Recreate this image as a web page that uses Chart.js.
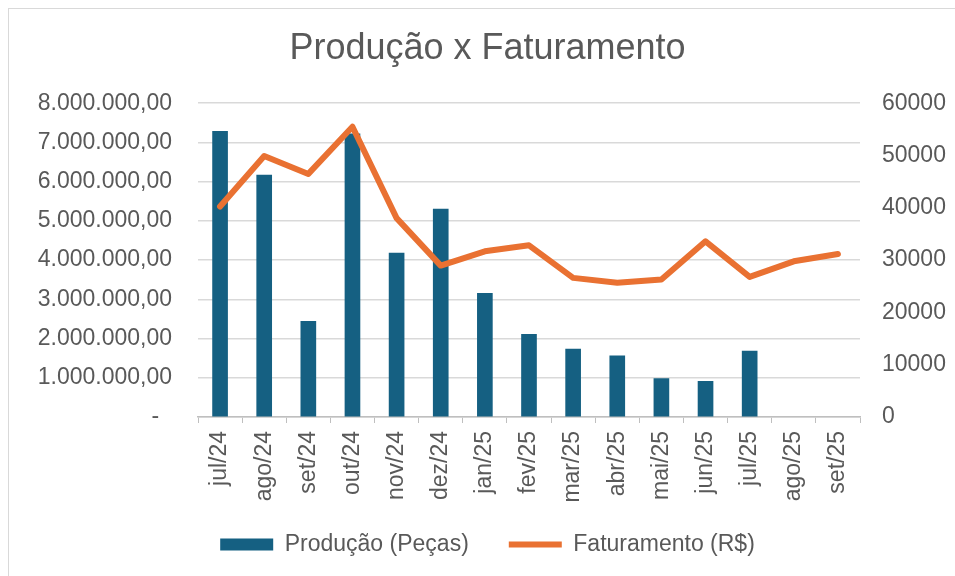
<!DOCTYPE html>
<html>
<head>
<meta charset="utf-8">
<script src="https://cdn.jsdelivr.net/npm/chart.js@4"></script>
<style>
  body { margin: 0; background: #ffffff; }
  #wrap { position: relative; width: 955px; height: 576px; }
  #frame { position: absolute; left: 8px; top: 8px; width: 960px; height: 600px;
           border: 1.5px solid #d9d9d9; pointer-events: none; }
</style>
</head>
<body>
<div id="wrap">
  <canvas id="graph1" width="955" height="576"></canvas>
  <div id="frame"></div>
</div>
<script>
// categories (months)
const meses = ['jul/24', 'ago/24', 'set/24', 'out/24', 'nov/24', 'dez/24', 'jan/25', 'fev/25',
               'mar/25', 'abr/25', 'mai/25', 'jun/25', 'jul/25', 'ago/25', 'set/25'];

// Produção (Peças) - left axis
const producao = [7280000, 6170000, 2440000, 7220000, 4180000, 5300000, 3150000, 2110000,
                  1730000, 1560000, 980000, 910000, 1680000, null, null];

// Faturamento (R$) - right axis
const faturamento = [40250, 49900, 46480, 55490, 38030, 28950, 31680, 32830,
                     26600, 25650, 26290, 33590, 26790, 29770, 31170];

const cinza = '#595959';
const fmt = new Intl.NumberFormat('pt-BR', { minimumFractionDigits: 2, maximumFractionDigits: 2 });

// rotated month labels run past the x scale box, so let them draw down to the legend
const unclipX = {
    id: 'unclipX',
    afterLayout(chart) {
        chart.scales.x.bottom = chart.height;
    }
};

const ctx = document.getElementById('graph1');
const myChart = new Chart(ctx, {
    data: {
        labels: meses,
        datasets: [
            {
                type: 'bar',
                label: 'Produção (Peças)',
                data: producao,
                backgroundColor: '#156082',
                barThickness: 15,
                yAxisID: 'y',
                order: 1
            },
            {
                type: 'line',
                label: 'Faturamento (R$)',
                data: faturamento,
                borderColor: '#E97132',
                backgroundColor: '#E97132',
                borderWidth: 6,
                borderJoinStyle: 'round',
                borderCapStyle: 'round',
                pointRadius: 0,
                tension: 0,
                yAxisID: 'y2',
                order: 0
            }
        ]
    },
    plugins: [unclipX],
    options: {
        responsive: false,
        animation: false,
        layout: { padding: { left: 20, right: 0, top: 0, bottom: 10 } },
        scales: {
            x: {
                grid: { drawOnChartArea: false, drawTicks: true, tickLength: 6, color: '#bfbfbf', offset: true },
                border: { display: true, color: '#bfbfbf', width: 1.5 },
                ticks: {
                    minRotation: 90,
                    maxRotation: 90,
                    padding: 8,
                    color: cinza,
                    font: { family: 'Liberation Sans', size: 23 }
                },
                afterFit: function(scale) { scale.height = 76; }
            },
            y: {
                position: 'left',
                min: 0,
                max: 8000000,
                grid: { color: '#d9d9d9', lineWidth: 1.5, drawTicks: false },
                border: { display: false },
                ticks: {
                    stepSize: 1000000,
                    padding: 26,
                    color: cinza,
                    font: { family: 'Liberation Sans', size: 23 },
                    callback: function(val) {
                        return val === 0 ? '-  ' : fmt.format(val);
                    }
                },
                afterFit: function(scale) { scale.width = 178; }
            },
            y2: {
                position: 'right',
                min: 0,
                max: 60000,
                grid: { drawOnChartArea: false, drawTicks: false },
                border: { display: false },
                ticks: {
                    stepSize: 10000,
                    padding: 22,
                    color: cinza,
                    font: { family: 'Liberation Sans', size: 23 },
                    callback: function(val) { return String(val); }
                },
                afterFit: function(scale) { scale.width = 95; }
            }
        },
        plugins: {
            title: {
                display: true,
                text: 'Produção x Faturamento',
                color: cinza,
                font: { family: 'Liberation Sans', size: 36, weight: 'normal' },
                padding: { top: 27, bottom: 33 }
            },
            legend: {
                position: 'bottom',
                labels: {
                    usePointStyle: true,
                    pointStyleWidth: 53,
                    boxHeight: 12,
                    padding: 40,
                    color: cinza,
                    font: { family: 'Liberation Sans', size: 23 },
                    sort: (a, b) => a.datasetIndex - b.datasetIndex,
                    generateLabels: function(chart) {
                        const items = Chart.defaults.plugins.legend.labels.generateLabels(chart);
                        items.forEach(it => {
                            it.pointStyle = it.datasetIndex === 0 ? 'rect' : 'line';
                            it.lineWidth = it.datasetIndex === 0 ? 0 : 6;
                            it.strokeStyle = it.datasetIndex === 0 ? '#156082' : '#E97132';
                        });
                        return items;
                    }
                }
            },
            tooltip: { enabled: false }
        }
    }
});
</script>
</body>
</html>
